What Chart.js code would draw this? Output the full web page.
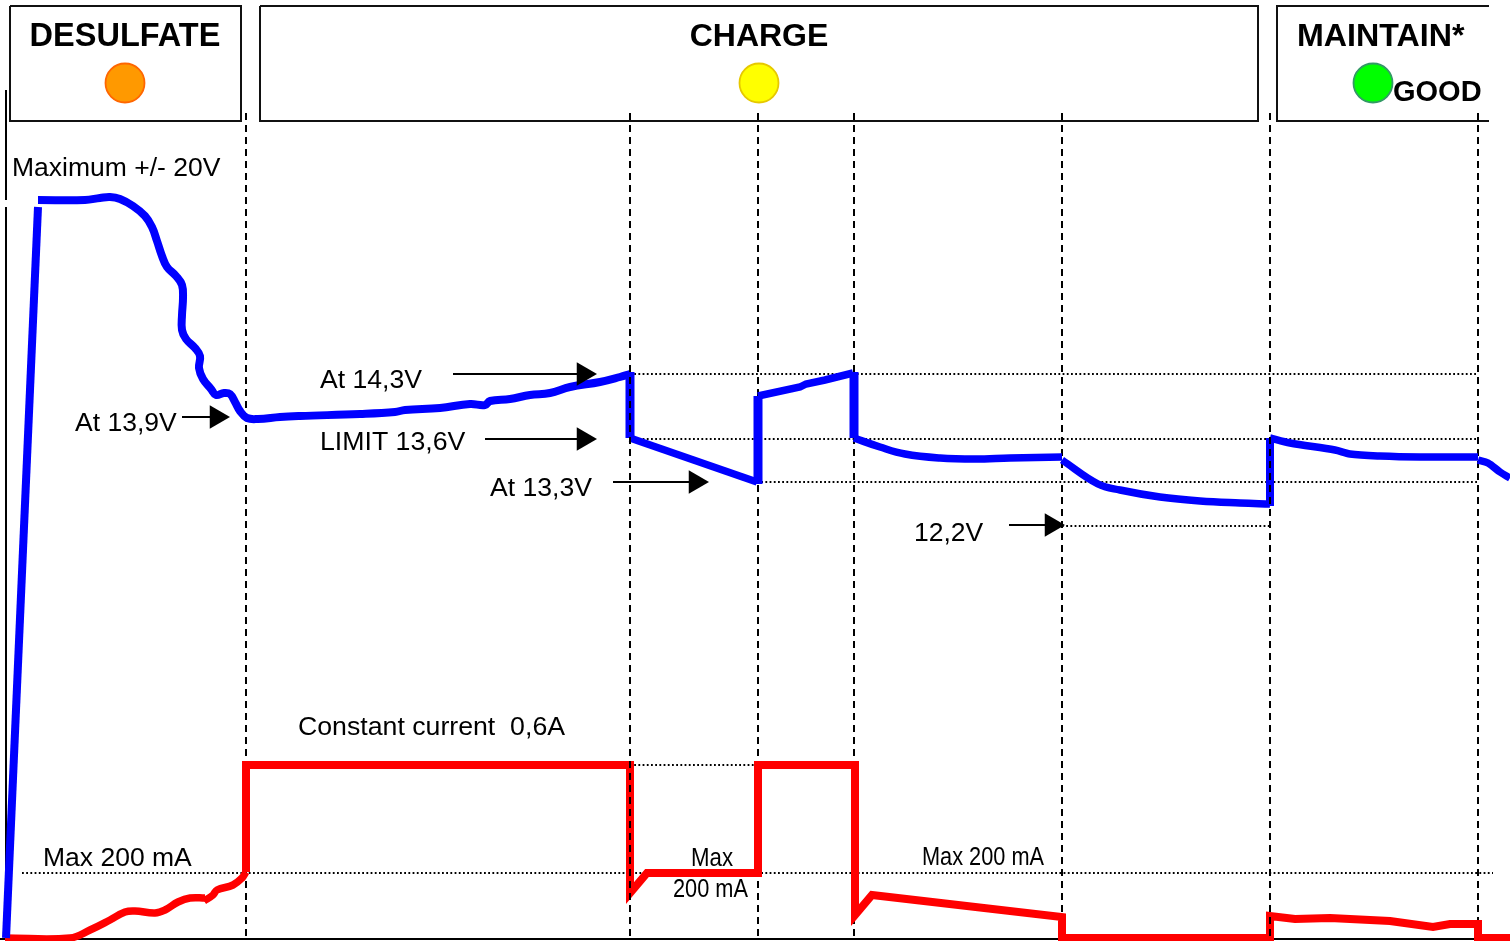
<!DOCTYPE html>
<html>
<head>
<meta charset="utf-8">
<style>html,body{margin:0;padding:0;background:#fff;overflow:hidden}canvas{display:block}</style>
<script src="https://cdn.jsdelivr.net/npm/chart.js@4"></script>
</head>
<body>
<canvas id="c" width="1510" height="941" style="width:1510px;height:941px"></canvas>
<script>
// Voltage trace (time units, level units; level axis runs downwards)
const voltRampT   = [6, 38];
const voltRampV   = [938, 207];
const voltDesulfT = [38,85,100,110,120,133,145,152,157,162,167,176,182,183,182,182,186,195,200,199,203,211,216,224,230,235,240,247,258,280,300,360,395,405,440,470,485,490,510,530,550,570,600,620,630];
const voltDesulfV = [200,200,198,197,199,206,216,227,241,256,267,276,285,298,315,330,339,348,356,368,379,389,395,393,394,402,411,418,419,417,416,414,412,410,408,404,405,401,399,395,393,387,382,377,374];
const voltDrop1T  = [630,630];
const voltDrop1V  = [372,438];
const voltSag1T   = [630,757];
const voltSag1V   = [438,482];
const voltRise1T  = [758,758];
const voltRise1V  = [484,396];
const voltPulseT  = [758,800,806,825,853];
const voltPulseV  = [396,387,384,380,373];
const voltDrop2T  = [854,854];
const voltDrop2V  = [372,438];
const voltHoldT   = [854,880,905,940,975,1010,1062];
const voltHoldV   = [438,447,454,458,459,458,457];
const voltLoadT   = [1062,1098,1120,1160,1200,1240,1270];
const voltLoadV   = [460,484,490,497,501,503,504];
const voltRise2T  = [1270,1270];
const voltRise2V  = [506,438];
const voltMaintT  = [1270,1290,1335,1350,1380,1420,1478];
const voltMaintV  = [438,443,450,454,456,457,457];
const voltEndT    = [1478,1488,1500,1510];
const voltEndV    = [460,463,472,478];

// Current trace
const currStartT = [5,70,90,110,125,135,155,165,178,190,205];
const currStartV = [938,938,930,920,912,911,913,910,902,898,898];
const currBumpT  = [204,213,217,233,242,246];
const currBumpV  = [901,895,890,885,878,872];
const currRiseT  = [246,246,630,630,647,758,758,855,855,872,1062,1062,1270,1270,1295,1330,1390,1433,1450,1478,1478,1510];
const currRiseV  = [872,765,765,893,873,873,765,765,915,895,917,938,938,916,919,918,921,927,924,924,938,938];

// Phase boundaries and reference levels
const boundsUnderTrace = [246,758,854,1062,1478];
const boundsOverTrace  = [630,1270];
const phaseTop = 113, phaseBottom = 938;
const levelRows = [[374,630,1478],[439,630,1478],[482,757,1478],[526,1062,1270],[765,630,758],[873,22,1493]];

// Frame elements
const boxDesulfate = [[10,6],[241,6],[241,121],[10,121],[10,6]];
const boxCharge    = [[260,6],[1258,6],[1258,121],[260,121],[260,6]];
const boxMaintain  = [[1489,6],[1277,6],[1277,121],[1489,121]];
const axisLeftTop  = [[6,90],[6,200]];
const axisLeft     = [[6,207],[6,938]];
const axisBase     = [[0,939],[1510,939]];

// Arrows: [tail, tip, level]
const arrows = [[182,230,417],[453,597,374],[485,597,439],[613,709,482],[1009,1065,525]];

// Status lamps: [x, y, fill, edge]
const lamps = [[125,83,'#ff9900','#ff6600'],[759,83,'#ffff00','#e6c800'],[1373,83,'#00ff00','#339966']];

// Text: [text, x, baseline, px, bold, align, maxWidth]
const labels = [
  ['DESULFATE',125,46,32.5,true,'center'],
  ['CHARGE',759,46,32,true,'center'],
  ['MAINTAIN*',1297,46,32.2,true,'left'],
  ['GOOD',1393,101,29,true,'left'],
  ['Maximum +/- 20V',12,176,26.5,false,'left'],
  ['At 14,3V',320,388,26.6,false,'left'],
  ['LIMIT 13,6V',320,450,26.7,false,'left'],
  ['At 13,9V',75,431,26.5,false,'left'],
  ['At 13,3V',490,496,26.6,false,'left'],
  ['12,2V',914,541,26.5,false,'left'],
  ['Constant current  0,6A',298,735,26.7,false,'left'],
  ['Max 200 mA',43,866,26.5,false,'left'],
  ['Max',691,866,26.5,false,'left',42],
  ['200 mA',673,897,26.5,false,'left',75],
  ['Max 200 mA',922,865,26.5,false,'left',122]
];

const zip = (a,b) => a.map((x,i)=>({x, y:b[i]}));
const pts = arr => arr.map(p=>({x:p[0], y:p[1]}));
const line = (data,color,width,order,extra={}) => Object.assign({
  data, showLine:true, borderColor:color, backgroundColor:color, borderWidth:width,
  pointRadius:0, tension:0, order, borderCapStyle:'butt', borderJoinStyle:'miter'
}, extra);

const datasets = [];
// frame and axes
[boxDesulfate,boxCharge,boxMaintain].forEach(b=>datasets.push(line(pts(b),'#111',2,5)));
[axisLeftTop,axisLeft,axisBase].forEach(a=>datasets.push(line(pts(a),'#000',2,5)));
// dotted levels
levelRows.forEach(r=>datasets.push(line([{x:r[1],y:r[0]},{x:r[2],y:r[0]}],'#000',1.8,4,{borderDash:[1.8,2.4]})));
// dashed phase boundaries: most sit under the traces, two over them
boundsUnderTrace.forEach(x=>datasets.push(line([{x,y:phaseTop},{x,y:phaseBottom}],'#000',2,4,{borderDash:[7,5]})));
boundsOverTrace.forEach(x=>datasets.push(line([{x,y:phaseTop},{x,y:phaseBottom}],'#000',2,2,{borderDash:[7,5]})));
// traces: [t, v, width, smoothing]
[[voltRampT,voltRampV,8,0],[voltDesulfT,voltDesulfV,8,0.4],[voltDrop1T,voltDrop1V,9,0],[voltSag1T,voltSag1V,7.5,0],
 [voltRise1T,voltRise1V,9,0],[voltPulseT,voltPulseV,7.5,0],[voltDrop2T,voltDrop2V,9,0],[voltHoldT,voltHoldV,7.5,0.4],
 [voltLoadT,voltLoadV,7.5,0.4],[voltRise2T,voltRise2V,8,0],[voltMaintT,voltMaintV,7.5,0.3],[voltEndT,voltEndV,7.5,0.3]]
 .forEach(s=>datasets.push(line(zip(s[0],s[1]),'#0000ff',s[2],3,{tension:s[3]})));
datasets.push(line(zip(currStartT,currStartV),'#ff0000',7.5,3,{tension:0.4}));
datasets.push(line(zip(currBumpT,currBumpV),'#ff0000',7.5,3,{tension:0.4}));
datasets.push(line(zip(currRiseT,currRiseV),'#ff0000',8,3));
// arrows
arrows.forEach(a=>{
  datasets.push(line([{x:a[0],y:a[2]},{x:a[1]-10,y:a[2]}],'#000',2,1));
  datasets.push({data:[{x:a[1]-13.5,y:a[2]}],showLine:false,pointStyle:'triangle',rotation:90,pointRadius:13.5,
    backgroundColor:'#000',borderColor:'#000',borderWidth:0,order:1,clip:false});
});
// lamps
lamps.forEach(l=>datasets.push({data:[{x:l[0],y:l[1]}],showLine:false,pointStyle:'circle',pointRadius:19.5,
  backgroundColor:l[2],borderColor:l[3],borderWidth:1.8,order:1}));

const textPlugin = {
  id:'textPlugin',
  afterDatasetsDraw(chart){
    const {ctx,scales:{x,y}} = chart;
    ctx.save();
    ctx.fillStyle='#000';
    ctx.textBaseline='alphabetic';
    labels.forEach(l=>{
      ctx.font=(l[4]?'bold ':'')+l[3]+'px "Liberation Sans", Arial, sans-serif';
      ctx.textAlign=l[5];
      if(l[6]) ctx.fillText(l[0],x.getPixelForValue(l[1]),y.getPixelForValue(l[2]),l[6]);
      else ctx.fillText(l[0],x.getPixelForValue(l[1]),y.getPixelForValue(l[2]));
    });
    ctx.restore();
  }
};

new Chart(document.getElementById('c'),{
  type:'scatter',
  data:{datasets},
  plugins:[textPlugin],
  options:{
    responsive:false, animation:false, devicePixelRatio:1,
    layout:{padding:0,autoPadding:false},
    events:[],
    plugins:{legend:{display:false},tooltip:{enabled:false},title:{display:false}},
    scales:{
      x:{type:'linear',min:0,max:1510,display:false},
      y:{type:'linear',min:0,max:941,reverse:true,display:false}
    }
  }
});
</script>
</body>
</html>
